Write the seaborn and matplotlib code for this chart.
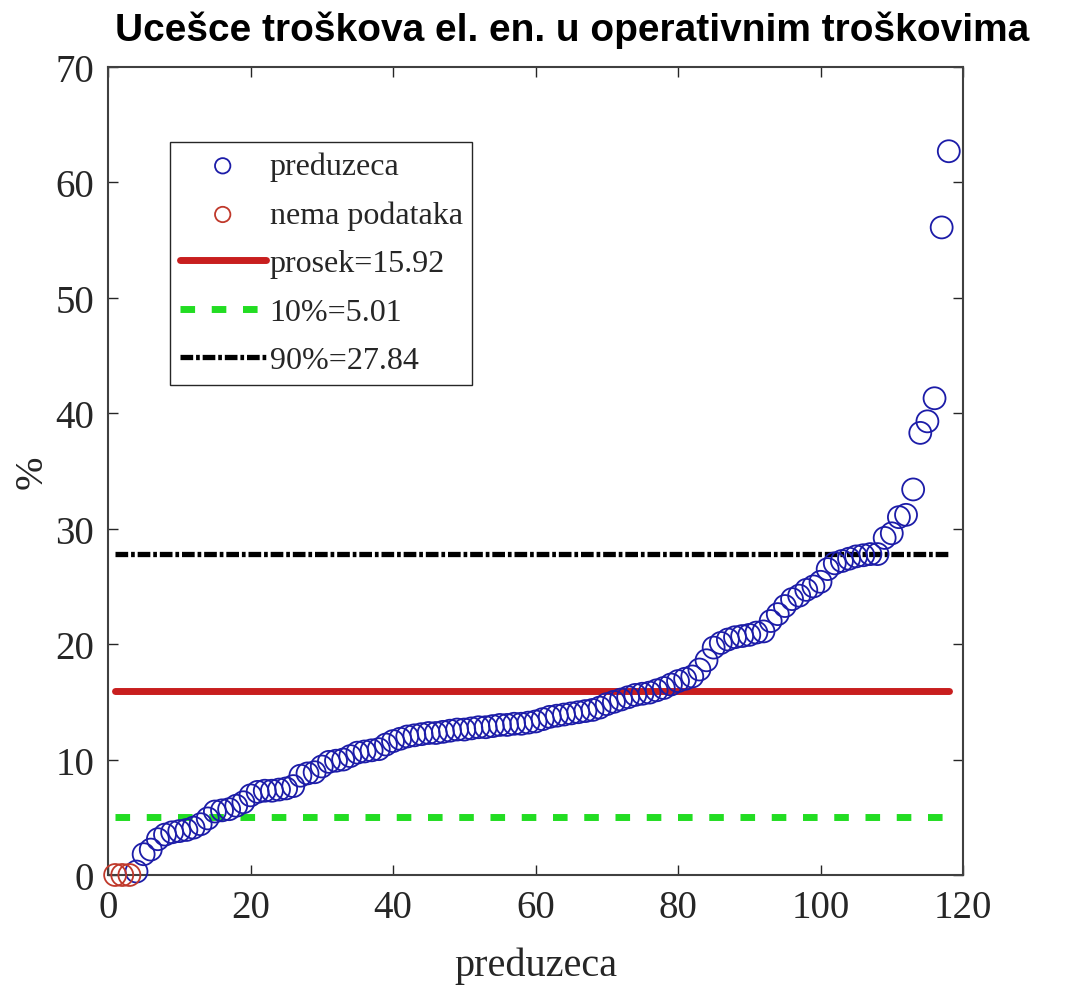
import matplotlib
matplotlib.use("Agg")
import matplotlib.pyplot as plt
from matplotlib import font_manager
import seaborn as sns

# companies without data (plotted at 0)
no_data_idx = [1, 2, 3]
no_data_val = [0.0, 0.0, 0.0]

# companies sorted by share of electricity cost in operating cost (%)
firm_idx = list(range(4, 119))
firm_val = [0.3, 1.8, 2.2, 3.1, 3.5, 3.7, 3.8, 3.9, 4.1, 4.4,
            4.9, 5.5, 5.6, 5.7, 6.0, 6.3, 6.9, 7.2, 7.3,
            7.3, 7.4, 7.5, 7.7, 8.6, 8.8, 8.9, 9.4, 9.8, 9.9,
            10.0, 10.3, 10.6, 10.7, 10.8, 10.9, 11.3,
            11.6, 11.8, 12.0, 12.1, 12.2, 12.3, 12.3, 12.4, 12.5, 12.6,
            12.6, 12.7, 12.8, 12.8, 12.9, 13.0, 13.0, 13.1, 13.1, 13.2,
            13.3, 13.5, 13.7, 13.8, 13.9, 14.0, 14.1, 14.2, 14.3, 14.5,
            14.8, 15.0, 15.2, 15.4, 15.6, 15.7, 15.8, 16.0, 16.2, 16.5,
            16.8, 17.0, 17.2, 17.8, 18.6, 19.7, 20.1, 20.4, 20.6, 20.7,
            20.8, 21.0,
            21.1, 22.0, 22.6, 23.3, 23.9, 24.2, 24.7, 25.0, 25.4, 26.5,
            27.0, 27.2, 27.4, 27.6, 27.7, 27.8, 27.8, 29.2, 29.6, 31.0,
            31.2, 33.4, 38.3, 39.3, 41.3, 56.1, 62.7]

ref_labels = ["prosek=15.92", "10%=5.01", "90%=27.84"]
ref_values = [15.92, 5.01, 27.84]

sns.set_theme(style="ticks")
plt.rcParams["font.family"] = ["Liberation Serif", "DejaVu Serif"]

blue = "#1c1ca8"
red_pt = "#c0392b"
ref_colors = ["#c81e1e", "#22dd22", "#000000"]
ref_dashes = [None, (2.1, 2.4), (2.4, 0.55, 0.7, 0.55)]
ref_widths = [5.0, 5.0, 3.8]

fig = plt.figure(figsize=(10.8, 10.04), dpi=100)
ax = fig.add_axes([0.1, 0.1275, 0.7917, 0.8048])

sns.scatterplot(x=firm_idx, y=firm_val, ax=ax, s=250, color="none",
                edgecolor=blue, linewidth=1.3, label="preduzeca", zorder=3,
                clip_on=False)
sns.scatterplot(x=no_data_idx, y=no_data_val, ax=ax, s=250, color="none",
                edgecolor=red_pt, linewidth=1.3, label="nema podataka", zorder=3,
                clip_on=False)

x0, x1 = no_data_idx[0], firm_idx[-1]
for val, lab, col, dsh, lw in zip(ref_values, ref_labels, ref_colors, ref_dashes, ref_widths):
    line, = ax.plot([x0, x1], [val, val], color=col, lw=lw, label=lab, zorder=2)
    if dsh is not None:
        line.set_dashes(dsh)

ax.set_xlim(0, 120)
ax.set_ylim(0, 70)
ax.set_xticks(range(0, 121, 20))
ax.set_yticks(range(0, 71, 10))
ax.tick_params(direction="in", top=True, right=True, length=7, width=1,
               labelsize=28, pad=10, colors="#262626")
for sp in ax.spines.values():
    sp.set_visible(True)
    sp.set_color("#404040")
    sp.set_linewidth(1.5)

ax.set_xlabel("preduzeca", fontsize=29, color="#262626")
ax.xaxis.set_label_coords(0.5, -0.088)
fig.text(0.03, 0.53, "%", rotation=90, ha="center", va="center",
         fontsize=29, color="#262626")

leg = ax.legend(loc="upper left", bbox_to_anchor=(0.0725, 0.907), borderaxespad=0,
                fontsize=23, handlelength=2.7, handletextpad=0.12, labelspacing=0.6,
                borderpad=0.3, fancybox=False, framealpha=1, edgecolor="#262626",
                markerscale=0.7)
leg.get_frame().set_linewidth(1.0)

names = {f.name for f in font_manager.fontManager.ttflist}
if "Liberation Sans Narrow" in names:
    title_font, title_size = "Liberation Sans Narrow", 34
else:
    title_font, title_size = "Liberation Sans", 28
fig.text(0.53, 0.970, "Ucešce troškova el. en. u operativnim troškovima",
         ha="center", va="center", fontsize=title_size, fontweight="bold",
         color="black", family=[title_font, "DejaVu Sans"])

fig.savefig("out.png", dpi=100)
